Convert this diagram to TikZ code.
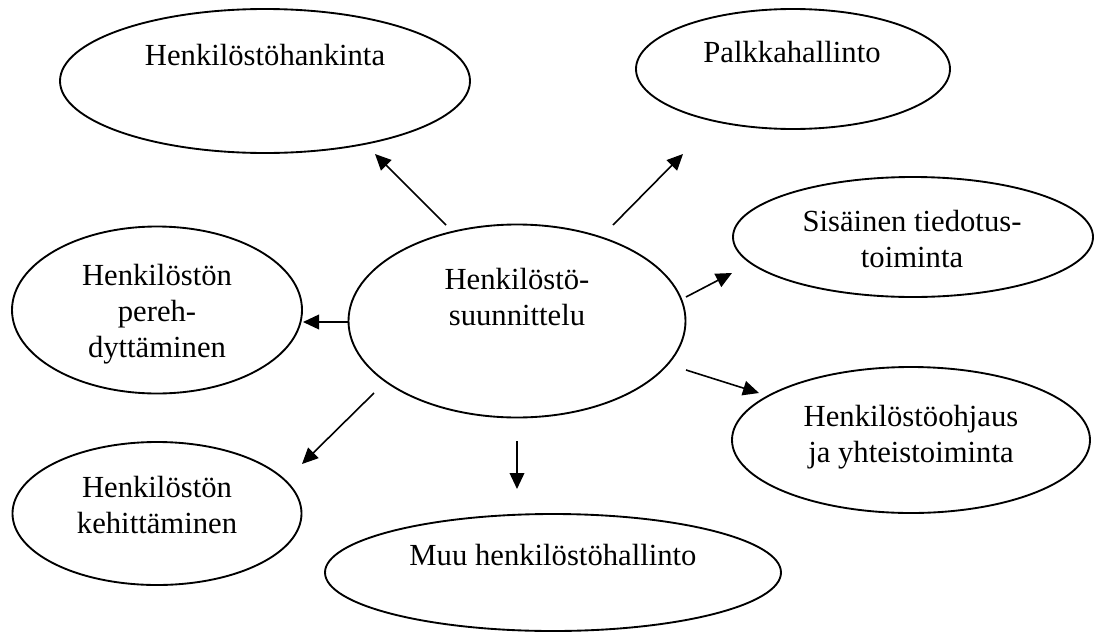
\documentclass[tikz,border=0pt]{standalone}
\usepackage{fontspec}
\setmainfont{Liberation Serif}
\usetikzlibrary{shapes.geometric,arrows.meta}
\tikzset{
  bubble/.style={draw, ellipse, line width=1.4pt, inner sep=0pt},
  lbl/.style={anchor=base, align=center, inner sep=0pt, font=\fontsize{23}{27}\selectfont},
  arr/.style={-{Triangle[length=12pt,width=11pt]}, line width=1.2pt},
}
\begin{document}
\begin{tikzpicture}[x=0.75pt,y=-0.75pt]
\useasboundingbox (0,0) rectangle (1096,632);
% ellipses
\node[bubble, minimum width=307.5pt, minimum height=108pt] (hankinta) at (265,81) {};
\node[bubble, minimum width=235.5pt, minimum height=90pt] (palkka) at (793,69) {};
\node[bubble, minimum width=217.5pt, minimum height=125.25pt] (pereh) at (157,310) {};
\node[bubble, minimum width=252.75pt, minimum height=144.75pt] (suun) at (517,321) {};
\node[bubble, minimum width=270pt, minimum height=90pt] (sisainen) at (913,237) {};
\node[bubble, minimum width=268.5pt, minimum height=109.5pt] (ohjaus) at (911,440) {};
\node[bubble, minimum width=342pt, minimum height=87.75pt] (muu) at (553,572.5) {};
\node[bubble, minimum width=216.75pt, minimum height=107.25pt] (kehit) at (157,513.5) {};
% texts (anchor = baseline of the last line)
\node[lbl] (thankinta) at (265,65) {Henkilöstöhankinta};
\node[lbl] (tpalkka) at (792,62) {Palkkahallinto};
\node[lbl] (tpereh) at (157,357) {Henkilöstön\\pereh-\\dyttäminen};
\node[lbl] (tsuun) at (517,325) {Henkilöstö-\\suunnittelu};
\node[lbl] (tsisainen) at (912,267) {Sisäinen tiedotus-\\toiminta};
\node[lbl] (tohjaus) at (911,462) {Henkilöstöohjaus\\ja yhteistoiminta};
\node[lbl] (tmuu) at (553,565) {Muu henkilöstöhallinto};
\node[lbl] (tkehit) at (157,533) {Henkilöstön\\kehittäminen};
% arrow end points
\coordinate (a1) at (446,225); \coordinate (a2) at (375,154);
\coordinate (d1) at (613,225); \coordinate (d2) at (683,154);
\coordinate (e1) at (686,297); \coordinate (e2) at (732,273);
\coordinate (f1) at (686,370); \coordinate (f2) at (759,393);
\coordinate (g1) at (517,441); \coordinate (g2) at (517,489);
\coordinate (h1) at (374,393); \coordinate (h2) at (302,464);
\coordinate (b1) at (349,322); \coordinate (b2) at (303,322);
\draw[arr] (a1) -- (a2);
\draw[arr] (d1) -- (d2);
\draw[arr] (e1) -- (e2);
\draw[arr] (f1) -- (f2);
\draw[arr] (g1) -- (g2);
\draw[arr] (h1) -- (h2);
\draw[arr] (b1) -- (b2);
\end{tikzpicture}
\end{document}
